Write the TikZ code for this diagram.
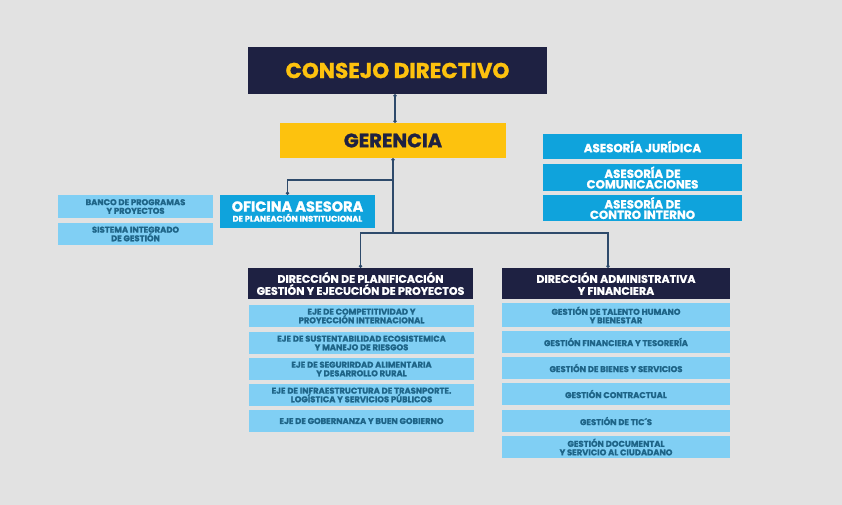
\documentclass[tikz,border=0pt]{standalone}
\usepackage{fontspec}
\setmainfont{Poppins}[BoldFeatures={FakeBold=1.2}]
\usetikzlibrary{arrows.meta}
\definecolor{fondo}{HTML}{E2E2E2}
\definecolor{marino}{HTML}{1E2142}
\definecolor{amarillo}{HTML}{FDC20E}
\definecolor{azul}{HTML}{0FA3DC}
\definecolor{celeste}{HTML}{80CFF4}
\definecolor{tinta}{HTML}{1E6487}
\definecolor{linea}{HTML}{2E4A6B}
\begin{document}
\begin{tikzpicture}[x=1pt,y=-1pt,
  caja/.style={rectangle,inner sep=0pt,align=center,font=\bfseries},
  jefe/.style={caja,fill=marino,text=white,minimum width=226pt,minimum height=31pt,font=\bfseries\fontsize{11}{12}\selectfont},
  asesor/.style={caja,fill=azul,text=white,minimum width=199pt,font=\bfseries\fontsize{11.8}{10.5}\selectfont},
  item/.style={caja,fill=celeste,text=tinta,minimum height=22pt,font=\bfseries\fontsize{8.4}{8.6}\selectfont},
  conn/.style={draw=linea,line width=1.1pt},
  dot/.tip={Circle[length=3.2pt]}]
  \fill[fondo] (0,0) rectangle (842,505);
  % cabeza
  \node[caja,fill=marino,text=amarillo,minimum width=299pt,minimum height=47pt,font=\bfseries\fontsize{21.5}{24}\selectfont] (consejo) at (397.5,70.5) {CONSEJO DIRECTIVO};
  \node[caja,fill=amarillo,text=marino,minimum width=226pt,minimum height=35pt,font=\bfseries\fontsize{19.5}{22}\selectfont] (gerencia) at (393,140.5) {GERENCIA};
  % asesorias
  \node[caja,fill=azul,text=white,minimum width=155pt,minimum height=33pt] (oficina) at (297.5,211.5) {\fontsize{14.5}{14}\selectfont OFICINA ASESORA\\[-2pt]\fontsize{8.2}{9}\selectfont DE PLANEACIÓN INSTITUCIONAL};
  \node[item,minimum width=155pt,minimum height=23pt] (banco) at (135.5,206.5) {BANCO DE PROGRAMAS\\Y PROYECTOS};
  \node[item,minimum width=155pt] (sistema) at (135.5,234) {SISTEMA INTEGRADO\\DE GESTIÓN};
  \node[asesor,minimum height=25pt] (juridica) at (642.5,146.5) {ASESORÍA JURÍDICA};
  \node[asesor,minimum height=27pt] (comunic) at (642.5,177.5) {ASESORÍA DE\\COMUNICACIONES};
  \node[asesor,minimum height=26pt] (control) at (642.5,208) {ASESORÍA DE\\CONTRO INTERNO};
  % direcciones
  \node[jefe,minimum width=225pt] (planif) at (360.5,283.5) {DIRECCIÓN DE PLANIFICACIÓN\\GESTIÓN Y EJECUCIÓN DE PROYECTOS};
  \node[jefe,minimum width=228pt] (admin) at (616,283.5) {DIRECCIÓN ADMINISTRATIVA\\Y FINANCIERA};
  % ejes
  \node[item,minimum width=225pt] (ejeA) at (361.5,316) {EJE DE COMPETITIVIDAD Y\\PROYECCIÓN INTERNACIONAL};
  \node[item,minimum width=225pt] (ejeB) at (361.5,343) {EJE DE SUSTENTABILIDAD ECOSISTEMICA\\Y MANEJO DE RIESGOS};
  \node[item,minimum width=225pt] (ejeC) at (361.5,369) {EJE DE SEGURIRDAD ALIMENTARIA\\Y DESARROLLO RURAL};
  \node[item,minimum width=225pt] (ejeD) at (361.5,395) {EJE DE INFRAESTRUCTURA DE TRASNPORTE.\\LOGÍSTICA Y SERVICIOS PÚBLICOS};
  \node[item,minimum width=225pt] (ejeE) at (361.5,421) {EJE DE GOBERNANZA Y BUEN GOBIERNO};
  % gestiones
  \node[item,minimum width=228pt,minimum height=24pt] (gesA) at (616,315) {GESTIÓN DE TALENTO HUMANO\\Y BIENESTAR};
  \node[item,minimum width=228pt] (gesB) at (616,342) {GESTIÓN FINANCIERA Y TESORERÍA};
  \node[item,minimum width=228pt] (gesC) at (616,368) {GESTIÓN DE BIENES Y SERVICIOS};
  \node[item,minimum width=228pt] (gesD) at (616,394) {GESTIÓN CONTRACTUAL};
  \node[item,minimum width=228pt] (gesE) at (616,421) {GESTIÓN DE TIC´S};
  \node[item,minimum width=228pt] (gesF) at (616,447) {GESTIÓN DOCUMENTAL\\Y SERVICIO AL CIUDADANO};
  % lineas
  \coordinate (jA) at (393,180);
  \coordinate (jB) at (393,233);
  \draw[conn,dot-dot] ([xshift=-2.5pt]consejo.south) -- ([xshift=2pt]gerencia.north);
  \draw[conn,dot-] (gerencia.south) -- (jB);
  \draw[conn,-dot] (jA) -| ([xshift=-10pt]oficina.north);
  \draw[conn,-dot] (jB) -| (planif.north);
  \draw[conn,-dot] (jB) -| ([xshift=-8pt]admin.north);
\end{tikzpicture}
\end{document}
